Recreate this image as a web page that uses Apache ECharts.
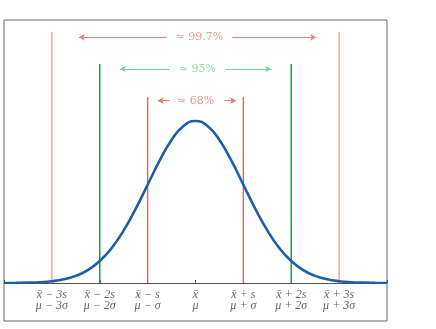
<!DOCTYPE html>
<html><head><meta charset="utf-8">
<script src="https://cdn.jsdelivr.net/npm/echarts@6/dist/echarts.min.js"></script>
<style>html,body{margin:0;padding:0;background:#fff}#c{width:436px;height:329px}</style>
</head><body><div id="c"></div>
<script>
// Tick positions (in sigma units) and their two-line labels
const sigmaPos = [-3, -2, -1, 0, 1, 2, 3];
const topLabels = ['x\u0304 \u2212 3s', 'x\u0304 \u2212 2s', 'x\u0304 \u2212 s', 'x\u0304', 'x\u0304 + s', 'x\u0304 + 2s', 'x\u0304 + 3s'];
const bottomLabels = ['\u03bc \u2212 3\u03c3', '\u03bc \u2212 2\u03c3', '\u03bc \u2212 \u03c3', '\u03bc', '\u03bc + \u03c3', '\u03bc + 2\u03c3', '\u03bc + 3\u03c3'];

// Bell curve
const curveX = [-4, -3.75, -3.5, -3.25, -3, -2.75, -2.5, -2.25, -2, -1.75, -1.5, -1.25, -1, -0.75, -0.5, -0.25, 0, 0.25, 0.5, 0.75, 1, 1.25, 1.5, 1.75, 2, 2.25, 2.5, 2.75, 3, 3.25, 3.5, 3.75, 4];
const curveY = [0.0001, 0.0004, 0.0009, 0.002, 0.0044, 0.0091, 0.0175, 0.0317, 0.054, 0.0863, 0.1295, 0.1826, 0.242, 0.3011, 0.3521, 0.3867, 0.3989, 0.3867, 0.3521, 0.3011, 0.242, 0.1826, 0.1295, 0.0863, 0.054, 0.0317, 0.0175, 0.0091, 0.0044, 0.002, 0.0009, 0.0004, 0.0001];

// Bands: ±1σ, ±2σ, ±3σ
const bandK = [1, 2, 3];
const bandLineTop = [0.458, 0.539, 0.618];
const bandLabels = ['\u2248 68%', '\u2248 95%', '\u2248 99.7%'];
const bandArrowY = [0.449, 0.527, 0.605];
const bandLabelX = [0.0, 0.04, 0.08];
const arrowLeft = [[-0.79, -0.54], [-1.58, -0.54], [-2.44, -0.6]];
const arrowRight = [[0.6, 0.85], [0.625, 1.58], [0.77, 2.52]];

const lineColors = ['#e06a6a', '#12a04a', '#f6a3a3'];
const arrowColors = ['#e87676', '#7fcb94', '#ee7d7d'];

const series = [];
bandK.forEach((k, i) => {
  [-k, k].forEach(x => {
    series.push({
      type: 'line', data: [[x, 0], [x, bandLineTop[i]]], symbol: 'none', silent: true,
      lineStyle: { color: lineColors[i], width: 1.5 }, z: 2
    });
  });
  series.push({
    type: 'scatter', data: [[bandLabelX[i], bandArrowY[i]]], symbolSize: 1, silent: true,
    itemStyle: { color: 'rgba(0,0,0,0)' },
    label: { show: true, position: 'inside', formatter: bandLabels[i], color: arrowColors[i],
      fontFamily: 'DejaVu Serif', fontSize: 11 },
    markLine: {
      silent: true, symbolSize: [5, 6], animation: false,
      label: { show: false },
      lineStyle: { color: arrowColors[i], width: 1, type: 'solid' },
      data: [
        [{ coord: [arrowLeft[i][1], bandArrowY[i]], symbol: 'none' }, { coord: [arrowLeft[i][0], bandArrowY[i]], symbol: 'arrow' }],
        [{ coord: [arrowRight[i][0], bandArrowY[i]], symbol: 'none' }, { coord: [arrowRight[i][1], bandArrowY[i]], symbol: 'arrow' }]
      ]
    }
  });
});
series.push({
  type: 'line', data: curveX.map((x, i) => [x, curveY[i]]), smooth: true, symbol: 'none', silent: true,
  lineStyle: { color: '#1b5fa9', width: 2.6 }, z: 5
});

const chart = echarts.init(document.getElementById('c'));
chart.setOption({
  animation: false,
  grid: [
    { left: 4, right: 49, top: 20, bottom: 46, show: false, containLabel: false, outerBoundsMode: 'none' },
    { left: 4, right: 49, top: 20, bottom: 8, show: true, borderColor: '#666', borderWidth: 1, backgroundColor: 'transparent', containLabel: false, outerBoundsMode: 'none' }
  ],
  xAxis: [{
    type: 'value', min: -4, max: 4, interval: 1, gridIndex: 0,
    axisLine: { onZero: false, lineStyle: { color: '#555', width: 1 } },
    axisTick: { show: true, inside: true, length: 3, lineStyle: { color: '#555' } },
    splitLine: { show: false },
    axisLabel: {
      margin: 6, color: '#666', fontFamily: 'Liberation Serif', fontStyle: 'italic', fontSize: 12, lineHeight: 11,
      formatter: v => { const j = sigmaPos.indexOf(v); return j < 0 ? '' : topLabels[j] + '\n' + bottomLabels[j]; }
    }
  }, { type: 'value', gridIndex: 1, show: false }],
  yAxis: [
    { type: 'value', min: 0, max: 0.6476, show: false, gridIndex: 0, splitLine: { show: false } },
    { type: 'value', gridIndex: 1, show: false }
  ],
  series: series
});
</script></body></html>
